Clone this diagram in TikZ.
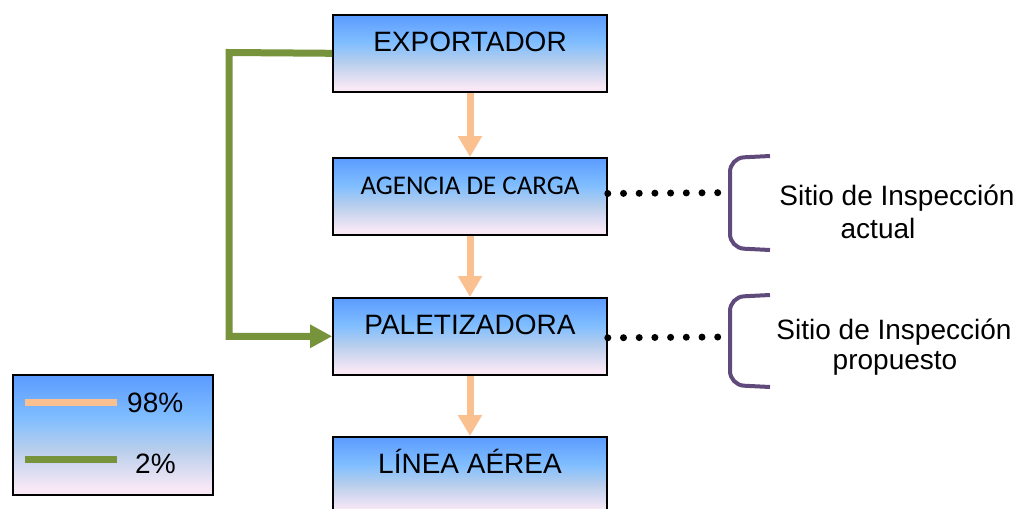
\documentclass[tikz,border=0pt]{standalone}
\usepackage{fontspec}
\setmainfont{Liberation Sans}
\newfontfamily\calibfont{Carlito}
\usetikzlibrary{arrows.meta}
\definecolor{boxtop}{HTML}{5B9BFF}
\definecolor{boxmid}{HTML}{80BEFF}
\definecolor{boxlow}{HTML}{B8CEEC}
\definecolor{boxbot}{HTML}{F8E8F6}
\definecolor{peach}{HTML}{FAC090}
\definecolor{olivegreen}{HTML}{77933C}
\definecolor{purp}{HTML}{604A7B}
\pgfdeclareverticalshading{stagegrad}{100bp}{%
  color(0bp)=(boxbot); color(28bp)=(boxbot); color(44bp)=(boxlow);
  color(57bp)=(boxmid); color(75bp)=(boxtop); color(100bp)=(boxtop)}
\begin{document}
\begin{tikzpicture}[x=1pt,y=-1pt,
  gradfill/.style={shading=stagegrad},
  stagebox/.style={draw=black, line width=1.6pt, gradfill, minimum width=274pt,
    inner xsep=0pt, inner ysep=0pt, text height=37pt, text depth=40pt,
    anchor=north, font=\fontsize{28}{32}\selectfont},
  flow/.style={draw=peach, line width=7pt, -{Triangle[width=23pt,length=21pt]}},
  minor/.style={draw=olivegreen, line width=7pt, line join=miter,
    -{Triangle[width=22pt,length=22pt]}},
  dotrow/.style={draw=black, line width=7pt, line cap=round,
    dash pattern=on 0pt off 15.7pt},
  bracketline/.style={draw=purp, line width=4pt, rounded corners=14pt},
  sidetext/.style={anchor=base, inner sep=0pt, font=\fontsize{28}{32}\selectfont},
  legtext/.style={anchor=base west, inner sep=0pt, font=\fontsize{28}{32}\selectfont}
]
\useasboundingbox (0,0) rectangle (1021,509);

\node[stagebox] (exp) at (470,14) {EXPORTADOR};
\node[stagebox, font=\calibfont\fontsize{27}{32}\selectfont] (agc) at (470,157) {AGENCIA DE CARGA};
\node[stagebox] (pal) at (470,297) {PALETIZADORA};
\node[stagebox] (lin) at (470,436) {LÍNEA AÉREA};

\draw[flow] (exp.south) -- (agc.north);
\draw[flow] (agc.south) -- (pal.north);
\draw[flow] (pal.south) -- (lin.north);

\coordinate (gc) at (229,52.5);
\draw[minor] (exp.west) -- (gc) |- (pal.west);

\coordinate (d1) at (718,192.7);
\coordinate (d2) at (718,337);
\draw[dotrow] ([yshift=2.8pt]agc.east) -- (d1);
\draw[dotrow] ([yshift=-1.5pt]pal.east) -- (d2);

\draw[bracketline] (770,156) -- (730,158) -- (730,248) -- (770,250);
\draw[bracketline] (770,295) -- (730,297) -- (730,385) -- (770,387);

\node[sidetext] (s1a) at (897,205) {Sitio de Inspección};
\node[sidetext] (s1b) at (878,238) {actual};
\node[sidetext] (s2a) at (894,339) {Sitio de Inspección};
\node[sidetext] (s2b) at (895,369) {propuesto};

\node[draw=black, line width=2pt, gradfill, minimum width=200pt, minimum height=120pt,
  inner sep=0pt, anchor=north west] (leg) at (12,374) {};
\draw[peach, line width=7pt] (25,402) -- (117,402);
\draw[olivegreen, line width=7pt] (25,459) -- (117,459);
\node[legtext] (l1) at (127,412) {98\%};
\node[legtext] (l2) at (135,473) {2\%};
\end{tikzpicture}
\end{document}
